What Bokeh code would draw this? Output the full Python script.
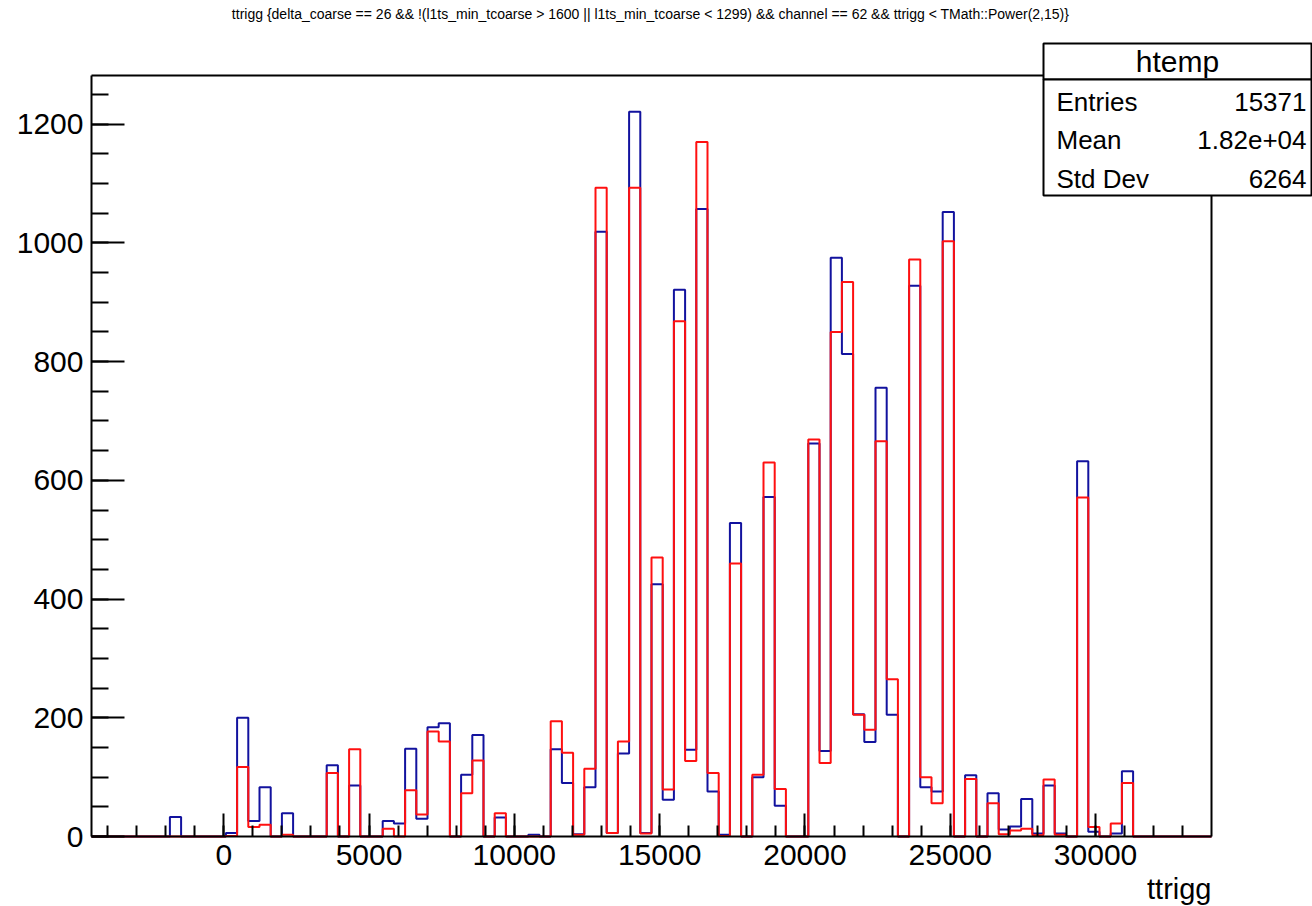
from bokeh.plotting import figure
from bokeh.models import FixedTicker, Label, BoxAnnotation, Range1d
from bokeh.embed import file_html
from bokeh.resources import INLINE

# ---- histogram definition: 100 equal bins over the ttrigg range ----
N_BINS = 100
X_MIN = -4550.0
X_MAX = 33990.0

# bin contents, bins 0..99 (blue: first selection, red: second selection)
blue_counts = [
    0, 0, 0, 0, 0, 0, 0, 33, 0, 0,
    0, 0, 6, 200, 26, 83, 0, 39, 0, 0,
    0, 120, 0, 86, 0, 0, 26, 22, 148, 30,
    184, 191, 0, 104, 171, 0, 32, 0, 0, 3,
    0, 147, 90, 4, 83, 1019, 6, 140, 1221, 6,
    425, 62, 921, 146, 1057, 76, 3, 528, 0, 100,
    572, 52, 0, 0, 662, 144, 975, 813, 206, 159,
    756, 205, 0, 928, 83, 76, 1052, 0, 103, 0,
    73, 12, 17, 63, 5, 86, 5, 0, 632, 8,
    0, 5, 110, 0, 0, 0, 0, 0, 0, 0,
]
red_counts = [
    0, 0, 0, 0, 0, 0, 0, 0, 0, 0,
    0, 0, 1, 117, 16, 20, 0, 3, 0, 0,
    0, 107, 0, 147, 0, 0, 13, 0, 78, 37,
    177, 160, 0, 73, 128, 0, 39, 0, 0, 0,
    0, 194, 141, 3, 114, 1093, 6, 160, 1093, 5,
    470, 79, 868, 127, 1170, 107, 1, 460, 0, 104,
    630, 80, 0, 0, 669, 124, 850, 934, 205, 180,
    666, 265, 0, 972, 100, 56, 1003, 0, 97, 0,
    56, 4, 10, 13, 2, 96, 3, 0, 571, 16,
    0, 22, 90, 0, 0, 0, 0, 0, 0, 0,
]

x_major_ticks = [0, 5000, 10000, 15000, 20000, 25000, 30000]
x_minor_ticks = list(range(-4000, 34000, 1000))
y_major_ticks = [0, 200, 400, 600, 800, 1000, 1200]
y_minor_ticks = list(range(0, 1300, 50))

title_text = ("ttrigg {delta_coarse == 26 && !(l1ts_min_tcoarse > 1600 || "
              "l1ts_min_tcoarse < 1299) && channel == 62 && ttrigg < TMath::Power(2,15)}")
x_title = "ttrigg"
stats_name = "htemp"
stats_labels = ["Entries", "Mean", "Std Dev"]
stats_values = ["15371", "1.82e+04", "6264"]

BLUE = "#12129e"
RED = "#ff1010"
FONT = "Liberation Sans"

# ---- canvas geometry (pixels); the histogram frame sits inside the canvas ----
W, H = 1312, 906
FL, FR, FT, FB = 91, 1211, 75, 836
Y_MAX = 1.05 * max(blue_counts)


def sx(px):
    return X_MIN + (px - FL) * (X_MAX - X_MIN) / (FR - FL)


def sy(py):
    return (FB - py) * Y_MAX / (FB - FT)


bin_w = (X_MAX - X_MIN) / N_BINS
edges = [X_MIN + i * bin_w for i in range(N_BINS + 1)]


def outline(counts):
    xs, ys = [edges[0]], [0]
    for i, c in enumerate(counts):
        xs += [edges[i], edges[i + 1]]
        ys += [c, c]
    xs.append(edges[-1])
    ys.append(0)
    return xs, ys


# the plotting area spans the whole canvas; axes are pinned to the frame edges
p = figure(width=W, height=H,
           x_range=Range1d(sx(0), sx(W)), y_range=Range1d(sy(H), sy(0)),
           output_backend="svg", toolbar_location=None,
           min_border=0, min_border_left=0, min_border_right=0,
           min_border_top=0, min_border_bottom=0)
p.background_fill_color = "white"
p.border_fill_color = "white"
p.outline_line_color = None
p.xgrid.visible = False
p.ygrid.visible = False

bx, by = outline(blue_counts)
rx, ry = outline(red_counts)
p.line(bx, by, line_color=BLUE, line_width=2)
p.line(rx, ry, line_color=RED, line_width=2)

# top and right sides of the frame box
p.line([X_MIN, X_MAX, X_MAX], [Y_MAX, Y_MAX, 0], line_color="black", line_width=2)

for ax in (p.xaxis[0], p.yaxis[0]):
    ax.axis_line_color = "black"
    ax.axis_line_width = 2
    ax.major_tick_line_color = "black"
    ax.minor_tick_line_color = "black"
    ax.major_tick_line_width = 2
    ax.minor_tick_line_width = 2
    ax.major_tick_out = 0
    ax.minor_tick_out = 0
    ax.major_label_text_font = FONT
    ax.major_label_text_font_size = "30px"
    ax.major_label_text_color = "black"

p.xaxis.fixed_location = 0
p.yaxis.fixed_location = X_MIN
p.xaxis.bounds = (X_MIN, X_MAX)
p.yaxis.bounds = (0, Y_MAX)
p.xaxis.ticker = FixedTicker(ticks=x_major_ticks, minor_ticks=x_minor_ticks)
p.yaxis.ticker = FixedTicker(ticks=y_major_ticks, minor_ticks=y_minor_ticks)
p.xaxis.major_tick_in = 23
p.xaxis.minor_tick_in = 11
p.yaxis.major_tick_in = 33
p.yaxis.minor_tick_in = 17
p.xaxis.major_label_standoff = 8
p.yaxis.major_label_standoff = 8

# title line at the top of the canvas
p.add_layout(Label(x=sx(650), y=sy(13), text=title_text, text_font=FONT,
                   text_font_size="14px", text_align="center",
                   text_baseline="middle", text_color="black"))

# x-axis title, right-aligned to the frame
p.add_layout(Label(x=sx(FR), y=sy(888), text=x_title, text_font=FONT,
                   text_font_size="29px", text_align="right",
                   text_baseline="alphabetic", text_color="black"))

# statistics box
SB_L, SB_R, SB_T, SB_H, SB_B = 1043, 1311, 43, 79, 195
for top, bottom in ((SB_T, SB_H), (SB_H, SB_B)):
    p.add_layout(BoxAnnotation(left=sx(SB_L), right=sx(SB_R), top=sy(top),
                               bottom=sy(bottom), fill_color="white",
                               fill_alpha=1.0, line_color="black",
                               line_alpha=1.0, line_width=2, level="overlay"))
p.add_layout(Label(x=sx((SB_L + SB_R) / 2), y=sy(61), text=stats_name,
                   text_font=FONT, text_font_size="30px", text_align="center",
                   text_baseline="middle", text_color="black", level="overlay"))
for k, (lab, val) in enumerate(zip(stats_labels, stats_values)):
    yc = sy(101 + 38.5 * k)
    p.add_layout(Label(x=sx(1056), y=yc, text=lab, text_font=FONT,
                       text_font_size="26px", text_align="left",
                       text_baseline="middle", text_color="black", level="overlay"))
    p.add_layout(Label(x=sx(1306), y=yc, text=val, text_font=FONT,
                       text_font_size="26px", text_align="right",
                       text_baseline="middle", text_color="black", level="overlay"))

open("out.html", "w").write(file_html(p, INLINE))
